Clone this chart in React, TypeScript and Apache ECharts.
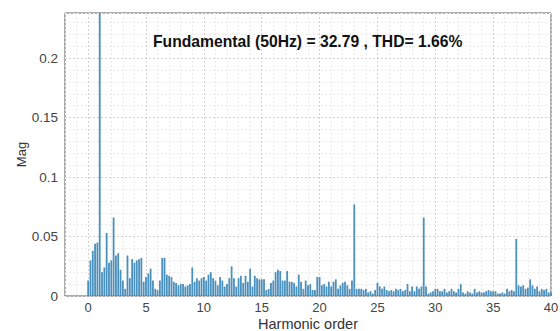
import React, { useEffect, useRef } from "react";
import * as echarts from "echarts";

// Harmonic-order grid step of the FFT spectrum (orders 0 .. 40)
const orderStep = 0.2;

// Magnitudes per harmonic order (5 samples per unit: .0 .2 .4 .6 .8)
const mag0_9: number[] = [
  0.013, 0.030, 0.038, 0.044, 0.045,
  1.000, 0.020, 0.024, 0.053, 0.028,
  0.030, 0.066, 0.034, 0.036, 0.022,
  0.013, 0.006, 0.034, 0.015, 0.031,
  0.028, 0.030, 0.031, 0.032, 0.012,
  0.016, 0.019, 0.023, 0.013, 0.006,
  0.005, 0.013, 0.032, 0.032, 0.018,
  0.017, 0.016, 0.012, 0.011, 0.009,
  0.010, 0.010, 0.008, 0.009, 0.010,
  0.024, 0.012, 0.015, 0.013, 0.015,
];
const mag10_19: number[] = [
  0.016, 0.013, 0.018, 0.020, 0.015,
  0.013, 0.009, 0.016, 0.013, 0.008,
  0.010, 0.015, 0.025, 0.015, 0.008,
  0.015, 0.017, 0.011, 0.017, 0.012,
  0.023, 0.008, 0.017, 0.015, 0.014,
  0.014, 0.014, 0.005, 0.006, 0.011,
  0.013, 0.020, 0.022, 0.021, 0.013,
  0.013, 0.021, 0.012, 0.012, 0.011,
  0.008, 0.018, 0.012, 0.006, 0.013,
  0.009, 0.010, 0.005, 0.005, 0.016,
];
const mag20_29: number[] = [
  0.016, 0.009, 0.010, 0.008, 0.012,
  0.008, 0.012, 0.014, 0.006, 0.009,
  0.011, 0.012, 0.009, 0.006, 0.013,
  0.077, 0.006, 0.006, 0.006, 0.005,
  0.006, 0.003, 0.004, 0.002, 0.005,
  0.011, 0.008, 0.006, 0.008, 0.005,
  0.004, 0.005, 0.004, 0.006, 0.005,
  0.006, 0.004, 0.005, 0.010, 0.004,
  0.008, 0.004, 0.008, 0.006, 0.008,
  0.066, 0.008, 0.002, 0.003, 0.004,
];
const mag30_40: number[] = [
  0.006, 0.006, 0.004, 0.004, 0.006,
  0.003, 0.004, 0.006, 0.004, 0.003,
  0.006, 0.010, 0.003, 0.002, 0.004,
  0.003, 0.002, 0.006, 0.003, 0.004,
  0.003, 0.003, 0.004, 0.005, 0.004,
  0.004, 0.004, 0.002, 0.002, 0.003,
  0.002, 0.006, 0.004, 0.005, 0.004,
  0.048, 0.009, 0.008, 0.009, 0.006,
  0.007, 0.014, 0.009, 0.006, 0.008,
  0.004, 0.006, 0.005, 0.006, 0.003,
  0.003,
];

const titleText = "Fundamental (50Hz) = 32.79 , THD= 1.66%";
const xName = "Harmonic order";
const yName = "Mag";

const FONT = "'Liberation Sans', Arial, Helvetica, sans-serif";

export default function App() {
  const ref = useRef<HTMLDivElement>(null);

  useEffect(() => {
    document.body.style.margin = "0";
    if (!ref.current) return;
    const chart = echarts.init(ref.current, undefined, { renderer: "svg" });
    const mags = [...mag0_9, ...mag10_19, ...mag20_29, ...mag30_40];
    const data = mags.map((m, i) => [Number((i * orderStep).toFixed(1)), m]);

    const minor = "#ebebeb";
    const major = "#d2d2d2";

    chart.setOption({
      animation: false,
      backgroundColor: "#ffffff",
      title: {
        text: titleText,
        left: 153,
        top: 33,
        padding: 0,
        textStyle: { fontFamily: FONT, fontSize: 15.7, fontWeight: "bold", color: "#111" },
      },
      grid: {
        left: 65,
        right: 9,
        top: 13,
        bottom: 35,
        outerBoundsMode: "none",
        containLabel: false,
        show: true,
        borderColor: "#5a5a5a",
        borderWidth: 1,
        backgroundColor: "transparent",
      },
      xAxis: {
        type: "value",
        min: -2,
        max: 40,
        interval: 1,
        name: xName,
        nameLocation: "middle",
        nameGap: 20,
        nameMoveOverlap: false,
        nameTextStyle: { fontFamily: FONT, fontSize: 14.5, color: "#333", verticalAlign: "top" },
        axisLine: { show: false },
        axisTick: { show: false },
        axisLabel: {
          fontFamily: FONT,
          fontSize: 13,
          color: "#444",
          margin: 5,
          formatter: (v: number) => (Math.round(v) % 5 === 0 ? String(Math.round(v)) : ""),
        },
        splitLine: {
          show: true,
          lineStyle: { color: [minor, minor, major, minor, minor], type: [2, 2], width: 1 },
        },
      },
      yAxis: {
        type: "value",
        min: 0,
        max: 0.238,
        interval: 0.01,
        name: yName,
        nameLocation: "middle",
        nameGap: 37,
        nameMoveOverlap: false,
        nameTextStyle: { fontFamily: FONT, fontSize: 13, color: "#333" },
        axisLine: { show: false },
        axisTick: { show: false },
        axisLabel: {
          fontFamily: FONT,
          fontSize: 13.5,
          color: "#444",
          margin: 7,
          showMaxLabel: false,
          formatter: (v: number) => {
            const k = Math.round(v * 100);
            if (Math.abs(v * 100 - k) > 1e-6 || k % 5 !== 0) return "";
            return k === 0 ? "0" : String(k / 100);
          },
        },
        splitLine: {
          show: true,
          lineStyle: { color: [major, minor, minor, minor, minor], type: [2, 2], width: 1 },
        },
      },
      series: [
        {
          type: "bar",
          data,
          barWidth: 1.8,
          clip: true,
          itemStyle: { color: "#4a90bd" },
          emphasis: { disabled: true },
        },
      ],
    });
    return () => chart.dispose();
  }, []);

  return <div ref={ref} style={{ width: 560, height: 331 }} />;
}
